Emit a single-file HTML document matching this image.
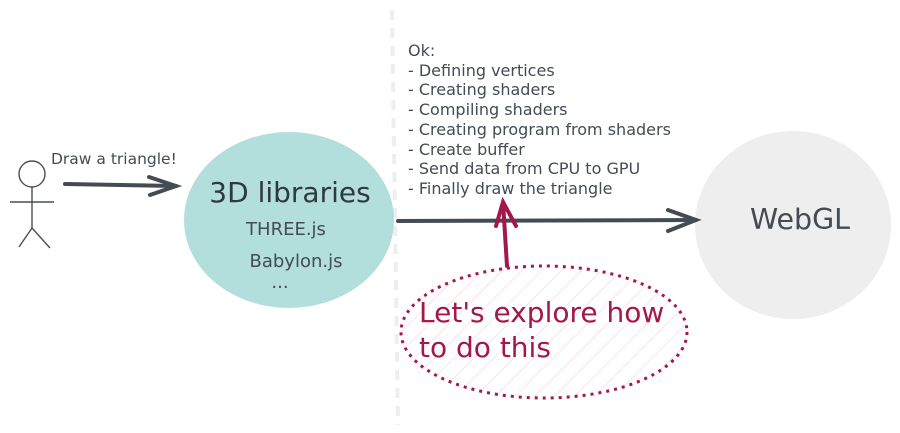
<!DOCTYPE html>
<html><head><style>body{margin:0;background:#fff}svg{display:block}text{font-family:"DejaVu Sans",sans-serif}</style></head>
<body>
<svg width="900" height="433" viewBox="0 0 900 433" xmlns="http://www.w3.org/2000/svg">
<defs>
<pattern id="h" width="14" height="14" patternUnits="userSpaceOnUse" patternTransform="rotate(45)">
<line x1="0" y1="0" x2="0" y2="14" stroke="#fadada" stroke-width="1.5"/>
</pattern>
</defs>
<line x1="392" y1="10" x2="398" y2="425" stroke="#eeeeee" stroke-width="4" stroke-dasharray="10 8"/>
<g stroke="#4a4f55" stroke-width="1.4" fill="none">
<circle cx="32" cy="174" r="13"/>
<line x1="32" y1="187" x2="32" y2="228"/>
<line x1="10" y1="202" x2="54" y2="202"/>
<line x1="32" y1="228" x2="19" y2="247"/>
<line x1="32" y1="228" x2="50" y2="248"/>
</g>
<text x="51" y="164" font-size="15.5" fill="#444b53">Draw a triangle!</text>
<g stroke="#444b53" stroke-width="4" fill="none" stroke-linecap="round">
<line x1="65" y1="184" x2="176" y2="186"/>
<path d="M149 177 L176 186 L150 195"/>
</g>
<ellipse cx="289" cy="220" rx="105" ry="88" fill="#b2dfdb"/>
<text x="290" y="202" font-size="28" fill="#2f3940" text-anchor="middle">3D libraries</text>
<text x="286" y="235" font-size="18" fill="#444b53" text-anchor="middle">THREE.js</text>
<text x="296" y="267" font-size="18" fill="#444b53" text-anchor="middle">Babylon.js</text>
<text x="280" y="288" font-size="18" fill="#444b53" text-anchor="middle">...</text>
<ellipse cx="793" cy="225" rx="98" ry="94" fill="#eeeeee"/>
<text x="800" y="229" font-size="28.5" fill="#444b53" text-anchor="middle">WebGL</text>
<g stroke="#444b53" stroke-width="4" fill="none" stroke-linecap="round">
<line x1="398" y1="221" x2="696" y2="220"/>
<path d="M668 210 L696 220 L668 231"/>
</g>
<g font-size="16" fill="#444b53">
<text x="408" y="56">Ok:</text>
<text x="408" y="76">- Defining vertices</text>
<text x="408" y="95">- Creating shaders</text>
<text x="408" y="115">- Compiling shaders</text>
<text x="408" y="135">- Creating program from shaders</text>
<text x="408" y="155">- Create buffer</text>
<text x="408" y="174">- Send data from CPU to GPU</text>
<text x="408" y="194">- Finally draw the triangle</text>
</g>
<ellipse cx="544" cy="332" rx="143" ry="66" fill="url(#h)" stroke="#a3184a" stroke-width="3" stroke-dasharray="3 5"/>
<g stroke="#a3184a" stroke-width="4" fill="none" stroke-linecap="round">
<line x1="507" y1="266" x2="503" y2="202"/>
<path d="M496 226 L503 202 L516 226"/>
</g>
<text x="419" y="322" font-size="28" fill="#a3184a">Let's explore how</text>
<text x="419" y="357" font-size="28" fill="#a3184a">to do this</text>
</svg>
</body></html>
